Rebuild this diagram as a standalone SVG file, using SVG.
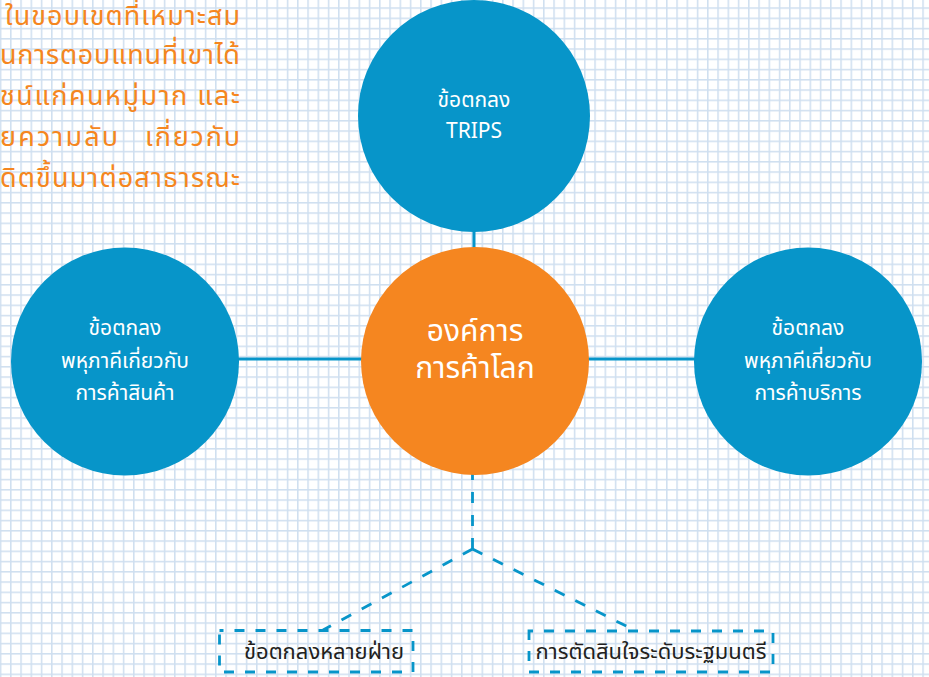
<svg xmlns="http://www.w3.org/2000/svg" width="929" height="677" viewBox="0 0 929 677">
  <defs>
    <pattern id="grid" x="-0.2" y="7.3" width="10.25" height="10.25" patternUnits="userSpaceOnUse">
      <rect x="0" y="0" width="10.25" height="10.25" fill="#ffffff"/>
      <rect x="0" y="0" width="1.5" height="10.25" fill="#cfdff0"/>
      <rect x="0" y="0" width="10.25" height="1.5" fill="#cfdff0"/>
    </pattern>
    <style>
      .th { font-family: "Noto Sans Thai", "Noto Sans", "DejaVu Sans", "Liberation Sans", sans-serif; }
      .blue { fill: #0795c9; }
      .orange { fill: #f58620; }
      .wt { fill: #ffffff; font-size: 21px; text-anchor: middle; }
      .big { fill: #ffffff; font-size: 30px; text-anchor: middle; }
      .para { fill: #f58620; font-size: 27px; }
      .solid { stroke: #0795c9; stroke-width: 3; fill: none; }
      .dash { stroke: #0795c9; stroke-width: 2.8; fill: none; stroke-dasharray: 11 12; }
      .box { stroke: #0795c9; stroke-width: 2.8; fill: none; stroke-dasharray: 10 11; }
      .dark { fill: #231f20; font-size: 22px; text-anchor: middle; }
    </style>
  </defs>

  <rect x="0" y="0" width="929" height="677" fill="url(#grid)"/>

  <g id="background-text" class="th para">
    <text x="5" y="25" textLength="235" lengthAdjust="spacing">ในขอบเขตที่เหมาะสม</text>
    <text x="0" y="64" textLength="240" lengthAdjust="spacing">นการตอบแทนที่เขาได้</text>
    <text x="0" y="105" textLength="240" lengthAdjust="spacing">ชน์แก่คนหมู่มาก และ</text>
    <text x="0" y="146" textLength="118" lengthAdjust="spacing">ยความลับ</text>
    <text x="145" y="146" textLength="95" lengthAdjust="spacing">เกี่ยวกับ</text>
    <text x="0" y="187" textLength="240" lengthAdjust="spacing">ดิตขึ้นมาต่อสาธารณะ</text>
  </g>

  <g id="connectors">
    <line class="solid" x1="238" y1="359" x2="362" y2="359"/>
    <line class="solid" x1="588" y1="359" x2="695" y2="359"/>
    <line class="solid" x1="474" y1="230" x2="474" y2="248"/>
    <path class="dash" d="M472.5 549 L472.5 474"/>
    <path class="dash" d="M472.5 549 L323 630"/>
    <path class="dash" d="M472.5 549 L636 631"/>
  </g>

  <g id="node-trips">
    <circle class="blue" cx="474" cy="116" r="116"/>
    <text class="th wt" x="474" y="107">ข้อตกลง</text>
    <text class="th wt" x="474" y="138">TRIPS</text>
  </g>

  <g id="node-wto">
    <circle class="orange" cx="475" cy="361" r="114"/>
    <text class="th big" x="475" y="341">องค์การ</text>
    <text class="th big" x="475" y="378">การค้าโลก</text>
  </g>

  <g id="node-goods">
    <circle class="blue" cx="125" cy="361.5" r="114"/>
    <text class="th wt" x="125" y="335">ข้อตกลง</text>
    <text class="th wt" x="125" y="368">พหุภาคีเกี่ยวกับ</text>
    <text class="th wt" x="125" y="400">การค้าสินค้า</text>
  </g>

  <g id="node-services">
    <circle class="blue" cx="808" cy="361.5" r="114"/>
    <text class="th wt" x="808" y="335">ข้อตกลง</text>
    <text class="th wt" x="808" y="368">พหุภาคีเกี่ยวกับ</text>
    <text class="th wt" x="808" y="400">การค้าบริการ</text>
  </g>

  <g id="node-multilateral">
    <rect class="box" x="219.5" y="630.5" width="193.5" height="41.5" stroke-dashoffset="6"/>
    <text class="th dark" x="324" y="659">ข้อตกลงหลายฝ่าย</text>
  </g>

  <g id="node-ministerial">
    <rect class="box" x="529" y="631" width="244" height="41" stroke-dashoffset="6"/>
    <text class="th dark" x="651" y="659">การตัดสินใจระดับระฐมนตรี</text>
  </g>
</svg>
